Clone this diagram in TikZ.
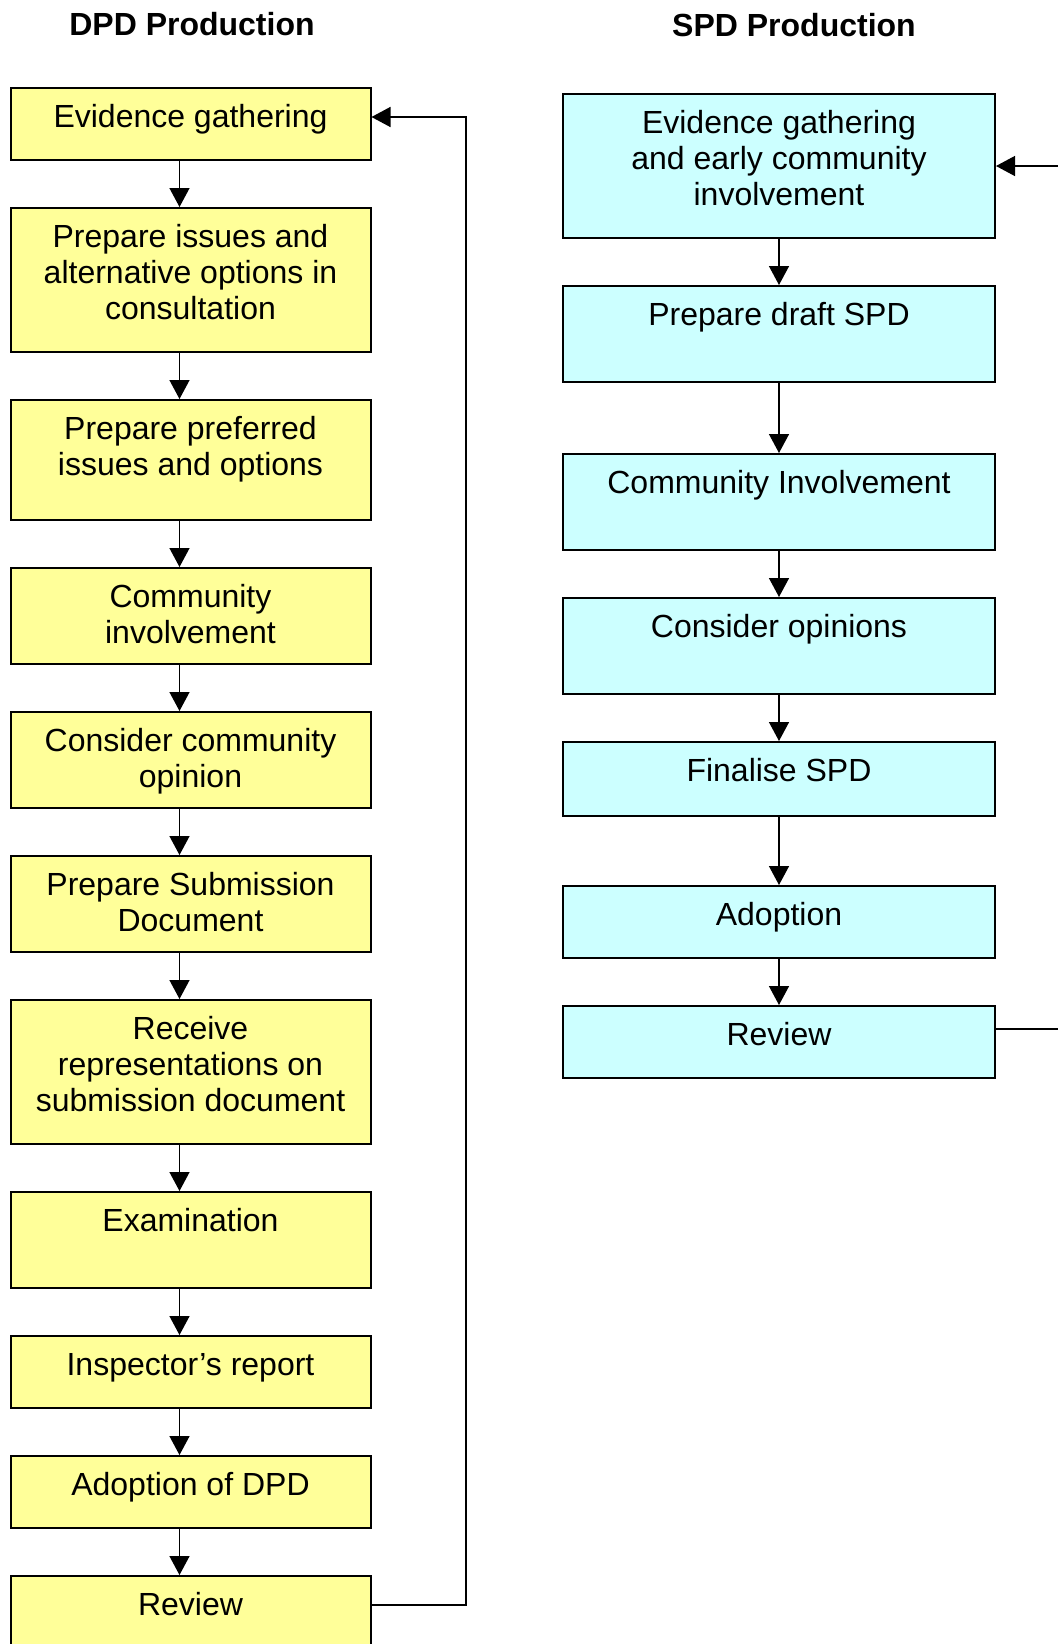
\documentclass[tikz,border=0pt]{standalone}
\usepackage{fontspec}
\setmainfont{Liberation Sans}
\usepackage{tikz}
\usetikzlibrary{arrows.meta}
\definecolor{dpdyellow}{RGB}{255,255,153}
\definecolor{spdcyan}{RGB}{204,255,255}
% box text: width, height, lines (first baseline at a fixed depth)
\newcommand{\boxtext}[3]{\parbox[c][#2][t]{#1}{\centering\rule{0pt}{19.5pt}#3}}

\begin{document}
\begin{tikzpicture}[
    x=0.5pt, y=-0.5pt,
    dpd/.style={
        draw=black,
        line width=1pt,
        fill=dpdyellow,
        inner sep=0pt,
        anchor=north west,
        font=\fontsize{16pt}{18pt}\selectfont,
    },
    spd/.style={dpd, fill=spdcyan},
    title/.style={font=\fontsize{16pt}{18pt}\selectfont\bfseries},
    flow/.style={-{Triangle[width=10pt,length=9.5pt]}, line width=0.7pt}
]
\useasboundingbox (0,0) rectangle (1058,1644);

\node[title] (DPDt) at (192,24) {DPD Production};
\node[title] (SPDt) at (794,25) {SPD Production};

% DPD column
\node[dpd] (EvD) at (9.5,87) {\boxtext{180pt}{36pt}{Evidence gathering}};
\node[dpd] (IssD) at (9.5,207) {\boxtext{180pt}{72pt}{Prepare issues and\\ alternative options in\\ consultation}};
\node[dpd] (PrefD) at (9.5,399) {\boxtext{180pt}{60pt}{Prepare preferred\\ issues and options}};
\node[dpd] (CommD) at (9.5,567) {\boxtext{180pt}{48pt}{Community\\ involvement}};
\node[dpd] (ConsD) at (9.5,711) {\boxtext{180pt}{48pt}{Consider community\\ opinion}};
\node[dpd] (SubD) at (9.5,855) {\boxtext{180pt}{48pt}{Prepare Submission\\ Document}};
\node[dpd] (RepD) at (9.5,999) {\boxtext{180pt}{72pt}{Receive\\ representations on\\ submission document}};
\node[dpd] (ExamD) at (9.5,1191) {\boxtext{180pt}{48pt}{Examination}};
\node[dpd] (InspD) at (9.5,1335) {\boxtext{180pt}{36pt}{Inspector’s report}};
\node[dpd] (AdoptD) at (9.5,1455) {\boxtext{180pt}{36pt}{Adoption of DPD}};
\node[dpd] (RevD) at (9.5,1575) {\boxtext{180pt}{36pt}{Review}};

% SPD column
\node[spd] (EvS) at (562,93) {\boxtext{216pt}{72pt}{Evidence gathering\\ and early community\\ involvement}};
\node[spd] (DraftS) at (562,285) {\boxtext{216pt}{48pt}{Prepare draft SPD}};
\node[spd] (CommS) at (562,453) {\boxtext{216pt}{48pt}{Community Involvement}};
\node[spd] (ConsS) at (562,597) {\boxtext{216pt}{48pt}{Consider opinions}};
\node[spd] (FinS) at (562,741) {\boxtext{216pt}{37pt}{Finalise SPD}};
\node[spd] (AdoptS) at (562,885) {\boxtext{216pt}{36pt}{Adoption}};
\node[spd] (RevS) at (562,1005) {\boxtext{216pt}{36pt}{Review}};

\draw[flow] ([xshift=-5.5pt]EvD.south) -- ([xshift=-5.5pt]IssD.north);
\draw[flow] ([xshift=-5.5pt]IssD.south) -- ([xshift=-5.5pt]PrefD.north);
\draw[flow] ([xshift=-5.5pt]PrefD.south) -- ([xshift=-5.5pt]CommD.north);
\draw[flow] ([xshift=-5.5pt]CommD.south) -- ([xshift=-5.5pt]ConsD.north);
\draw[flow] ([xshift=-5.5pt]ConsD.south) -- ([xshift=-5.5pt]SubD.north);
\draw[flow] ([xshift=-5.5pt]SubD.south) -- ([xshift=-5.5pt]RepD.north);
\draw[flow] ([xshift=-5.5pt]RepD.south) -- ([xshift=-5.5pt]ExamD.north);
\draw[flow] ([xshift=-5.5pt]ExamD.south) -- ([xshift=-5.5pt]InspD.north);
\draw[flow] ([xshift=-5.5pt]InspD.south) -- ([xshift=-5.5pt]AdoptD.north);
\draw[flow] ([xshift=-5.5pt]AdoptD.south) -- ([xshift=-5.5pt]RevD.north);

\draw[flow] (EvS) -- (DraftS);
\draw[flow] (DraftS) -- (CommS);
\draw[flow] (CommS) -- (ConsS);
\draw[flow] (ConsS) -- (FinS);
\draw[flow] (FinS) -- (AdoptS);
\draw[flow] (AdoptS) -- (RevS);

% feedback loops
\coordinate (loopL) at (466,0);
\coordinate (loopR) at (1075,0);
\coordinate (revL) at ([yshift=-15pt]RevD.north east);
\coordinate (evL) at ([yshift=-15pt]EvD.north east);
\coordinate (revR) at ([yshift=-12pt]RevS.north east);
\draw[flow] (revL) -- (revL -| loopL) -- (evL -| loopL) -- (evL);
\draw[flow] (revR) -- (revR -| loopR) -- (EvS.east -| loopR) -- (EvS.east);
\end{tikzpicture}
\end{document}
